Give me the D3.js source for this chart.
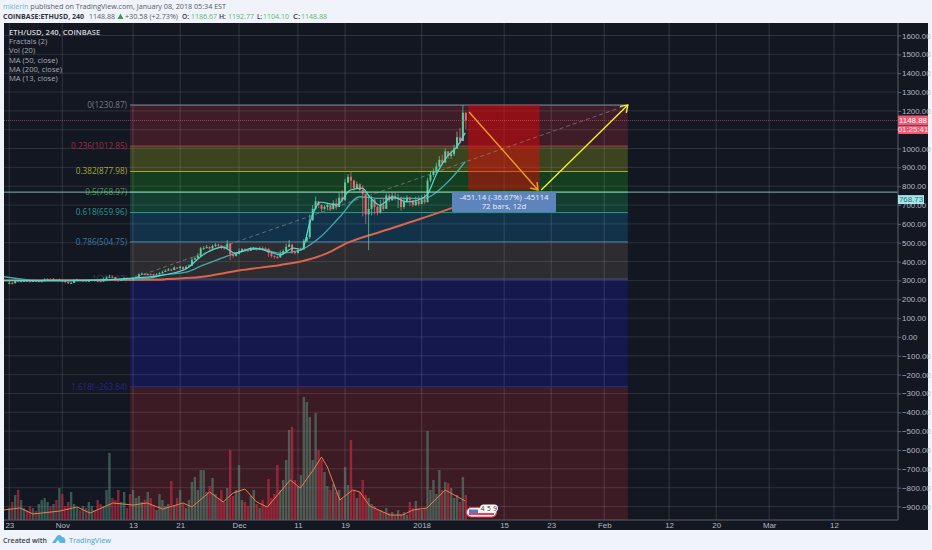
<!DOCTYPE html>
<html>
<head>
<meta charset="utf-8">
<script src="https://cdn.jsdelivr.net/npm/d3@7"></script>
<style>
  html, body { margin: 0; padding: 0; background: #f0f3fa; }
  svg { display: block; font-family: "Open Sans", "Liberation Sans", sans-serif; }
  .axis text { font-family: "Liberation Sans", Arial, sans-serif; font-size: 7.9px; fill: #b6b9c2; }
</style>
</head>
<body>
<div id="chart"></div>
<script>
// Half day candles, first one is Oct 23 2017. Open is the close before it.
const closes = [
  287,285, 298,296, 296,297, 296,295, 297,296, 296,296, 306,307, 306,307, 304,305,
  298,292, 285,287, 300,305, 298,300, 296,298, 302,298, 296,294, 308,315, 320,318, 305,300,
  303,313, 305,300, 312,318, 332,336, 330,333, 332,330, 332,338, 345,352, 358,355, 368,366,
  372,360, 372,378, 410,418, 430,470, 472,478, 470,482, 490,485, 475,470, 495,440, 430,440,
  455,465, 462,458, 468,470, 465,472, 470,468, 445,430, 425,422, 440,455, 478,490, 450,445,
  460,465, 510,530, 620,680, 720,700, 680,690, 700,680, 710,690, 740,725, 820,850, 830,790,
  810,780, 760,650, 680,730, 690,660, 700,680, 750,725, 750,735, 740,690, 720,740, 725,700, 720,705,
  730,715, 830,860, 880,905, 940,925, 985,960, 970,1000, 1060,1040, 1190,1148.88
];
const highs = [
  300,292, 303,300, 300,301, 300,298, 300,299, 299,300, 312,311, 311,312, 308,309,
  306,299, 293,292, 306,310, 304,304, 300,303, 306,303, 300,298, 316,322, 330,325, 320,306,
  310,318, 316,306, 318,326, 338,342, 337,338, 338,336, 339,344, 352,358, 366,362, 375,372,
  380,374, 380,386, 420,428, 445,478, 482,488, 480,490, 498,494, 488,480, 514,498, 445,450,
  470,472, 472,468, 478,478, 475,480, 480,476, 470,446, 434,430, 458,465, 495,515, 492,456,
  472,475, 520,545, 650,700, 745,722, 705,700, 712,698, 725,735, 765,780, 840,865, 877,835,
  825,815, 805,700, 745,748, 735,700, 728,735, 762,760, 765,768, 758,745, 745,752, 745,728, 745,752,
  752,760, 845,880, 895,925, 960,968, 1000,985, 990,1020, 1090,1110, 1230.87,1192.77
];
const lows = [
  280,278, 284,290, 292,293, 291,290, 292,292, 292,291, 295,302, 302,303, 300,301,
  290,284, 281,283, 286,299, 296,296, 292,294, 296,294, 292,290, 293,306, 312,312, 296,294,
  298,300, 298,296, 298,311, 316,329, 326,328, 327,325, 327,330, 336,344, 350,349, 354,360,
  356,352, 358,368, 376,408, 414,428, 462,468, 460,468, 478,478, 465,462, 470,408, 420,426,
  438,452, 454,450, 456,464, 458,462, 460,460, 425,420, 415,414, 420,438, 452,476, 440,438,
  444,458, 462,505, 520,615, 675,685, 665,675, 672,668, 675,675, 708,715, 755,815, 785,775,
  785,770, 640,600, 461,645, 650,645, 655,670, 715,715, 735,725, 685,670, 680,715, 695,690, 695,695,
  715,705, 740,820, 850,870, 900,915, 945,945, 945,960, 998,1025, 1075,1104.1
];
const volumes = [
  12,18, 25,30, 20,12, 10,14, 12,9, 16,20, 22,18, 14,16, 20,32,
  26,14, 18,28, 16,12, 10,14, 12,18, 14,10, 20,16, 14,30, 67,22, 20,30,
  18,28, 12,26, 30,22, 24,18, 20,28, 22,14, 10,26, 20,14, 16,39, 14,22,
  30,16, 12,20, 38,43, 30,50, 50,28, 34,42, 26,22, 30,18, 32,70, 24,30,
  55,20, 18,14, 24,30, 16,12, 20,14, 41,22, 26,55, 30,40, 60,90, 93,40,
  34,45, 123,118, 103,60, 107,70, 60,48, 34,30, 36,28, 30,22, 53,35, 80,30,
  22,28, 40,25, 22,16, 14,10, 10,8, 12,7, 8,5, 10,6, 8,5, 18,12, 19,12,
  10,12, 89,30, 40,26, 50,30, 38,37, 32,22, 25,18, 43,25
];

const ma13Days = [-1,9,15.4,21,26,30.2,32.4,33.7,36.3,38.3,41.4,44.3,46,48.2,49.7,51,52.8,55.6,57.9,59.9,61.2,62.9,65.1,67.5,69.4,70.9,72.6,74.3,76,77.4];
const ma13Values = [300,298,302,312,328,365,424,451,477,445,471,451,435,471,465,605,715,700,780,790,743,700,743,717,727,754,870,956,1010,1083];
const ma50Days = [-1,5,20,23.9,26,30.2,32.9,35.2,38,42.6,46,49.4,52.8,56.1,59.5,62.9,70.2,74.3,77.4];
const ma50Values = [320,300,305,312,328,345,381,408,440,467,445,461,530,637,744,735,735,818,930];
const ma200Days = [-1,25,26.8,32.4,39.2,46,50.5,54,57.3,62.9,70.2,75.2,77.5];
const ma200Values = [300,303,307,318,354,382,408,445,498,557,631,685,712];
const volMaDays = [-1,1.8,4,8.6,11.5,13.7,17.6,21,23.4,26,29.5,31,34,36.3,38,40,42,43.8,47.7,49.4,51.6,53,54,56.1,58.3,59.5,61.2,64.6,66.8,68.5,70.9,74,77.4];
const volMaValues = [10,12,6,9,13,7,17,15,17,11,17,13,28,18,27,31,18,13,40,32,50,63,53,20,30,28,14,5,5,10,12,30,19];

// Fibonacci retracement
const fibLevels = ["0","0.236","0.382","0.5","0.618","0.786","1","1.618"];
const fibPrices = [1230.87,1012.85,877.98,768.97,659.96,504.75,307.07,-263.84];
const fibFills = ["#4a1f2b","#46501f","#14491f","#134a38","#123a55","#333236","#14185a","#491c25"];
const fibLines = ["#8a8d96","#a8404a","#a3a83a","#46a040","#2a9d8f","#4c7fa6","#55587a","#2a2a90"];
const fibLabels = ["#787b86","#a02c44","#a3a83a","#3f9a3c","#26998d","#3d78a4","#3a3c4a","#26268c"];

// Axis labels
const priceTicks = [1600,1500,1400,1300,1200,1100,1000,900,800,700,600,500,400,300,200,100,0,-100,-200,-300,-400,-500,-600,-700,-800,-900];
const timeTicks = ["2017-10-23","2017-11-01","2017-11-13","2017-11-21","2017-12-01","2017-12-11","2017-12-19","2018-01-01","2018-01-15","2018-01-23","2018-02-01","2018-02-12","2018-02-20","2018-03-01","2018-03-12"];
const timeLabels = ["23","Nov","13","21","Dec","11","19","2018","15","23","Feb","12","20","Mar","12"];
const legendLines = ["ETH/USD, 240, COINBASE","Fractals (2)","Vol (20)","MA (50, close)","MA (200, close)","MA (13, close)"];

// Drawing tools, in days after Oct 23 and price
const fibStartDay = 20.5, fibEndDay = 105;
const lastPrice = 1148.88, crossPrice = 768.73;
const boxDays = [77.9,90], boxPrices = [1230.87,779.74];
const downArrowDays = [78.05,89.75], downArrowPrices = [1194,780];
const upArrowDays = [90.3,105], upArrowPrices = [780,1231];

const width = 932, height = 550;
const plotLeft = 4, plotRight = 898, plotTop = 23, plotBottom = 520, axisRight = 928, axisBottom = 530;

const parse = d3.utcParse("%Y-%m-%d");
const startDate = parse("2017-10-23");
const dayToDate = n => new Date(startDate.getTime() + n * 864e5);

const svg = d3.select("#chart").append("svg").attr("width", width).attr("height", height);

const x = d3.scaleUtc().domain([startDate, parse("2018-03-12")]).range([9.3, 834]);
const y = d3.scaleLinear().domain([1600, -900]).range([35.5, 506.5]);
const volY = d3.scaleLinear().domain([0, 125]).range([plotBottom, plotBottom - 125]);
const xDay = n => x(dayToDate(n));

svg.append("defs").append("clipPath").attr("id", "plot")
  .append("rect").attr("x", plotLeft).attr("y", plotTop)
  .attr("width", plotRight - plotLeft).attr("height", plotBottom - plotTop);

// dark panel
svg.append("rect").attr("x", plotLeft).attr("y", plotTop)
  .attr("width", axisRight - plotLeft).attr("height", axisBottom - plotTop).attr("fill", "#131722");

const plot = svg.append("g").attr("clip-path", "url(#plot)");

// fib zones, last one runs on to the bottom of the plot
plot.append("g").selectAll("rect")
  .data(fibPrices)
  .enter().append("rect")
  .attr("x", xDay(fibStartDay))
  .attr("width", xDay(fibEndDay) - xDay(fibStartDay))
  .attr("y", d => y(d))
  .attr("height", (d, i) => (i < fibPrices.length - 1 ? y(fibPrices[i + 1]) : plotBottom) - y(d))
  .attr("fill", (d, i) => fibFills[i])
  .attr("opacity", 0.78);

// grid on top of the zones
plot.append("g").selectAll("line")
  .data(priceTicks)
  .enter().append("line")
  .attr("x1", plotLeft).attr("x2", plotRight)
  .attr("y1", d => y(d)).attr("y2", d => y(d))
  .attr("stroke", "#fff").attr("stroke-opacity", 0.11);
plot.append("g").selectAll("line")
  .data(timeTicks)
  .enter().append("line")
  .attr("x1", d => x(parse(d))).attr("x2", d => x(parse(d)))
  .attr("y1", plotTop).attr("y2", plotBottom)
  .attr("stroke", "#fff").attr("stroke-opacity", 0.13);

// fib lines and their labels
plot.append("g").selectAll("line")
  .data(fibPrices)
  .enter().append("line")
  .attr("x1", xDay(fibStartDay)).attr("x2", xDay(fibEndDay))
  .attr("y1", d => y(d)).attr("y2", d => y(d))
  .attr("stroke", (d, i) => fibLines[i]);
plot.append("g").selectAll("text")
  .data(fibPrices)
  .enter().append("text")
  .attr("x", xDay(fibStartDay) - 3)
  .attr("y", d => y(d))
  .attr("dy", "0.35em")
  .attr("text-anchor", "end")
  .attr("font-size", 8.2)
  .attr("fill", (d, i) => fibLabels[i])
  .text((d, i) => fibLevels[i] + "(" + d3.format(".2f")(d) + ")");

// red box of the date and price range
plot.append("rect")
  .attr("x", xDay(boxDays[0])).attr("width", xDay(boxDays[1]) - xDay(boxDays[0]))
  .attr("y", y(boxPrices[0])).attr("height", y(boxPrices[1]) - y(boxPrices[0]))
  .attr("fill", "#ff0000").attr("fill-opacity", 0.42);

// dashed trend line of the fib
plot.append("line")
  .attr("x1", xDay(fibStartDay)).attr("y1", y(fibPrices[6]))
  .attr("x2", xDay(fibEndDay)).attr("y2", y(fibPrices[0]))
  .attr("stroke", "#9a9aa0").attr("stroke-opacity", 0.55).attr("stroke-dasharray", "4 3");

// volume bars
const isUp = (d, i) => closes[i] >= (i ? closes[i - 1] : closes[i]);
plot.append("g").selectAll("rect")
  .data(volumes)
  .enter().append("rect")
  .attr("x", (d, i) => xDay(i / 2) - 1.2)
  .attr("width", 2.4)
  .attr("y", d => volY(d))
  .attr("height", d => plotBottom - volY(d))
  .attr("fill", (d, i) => isUp(d, i) ? "#5c9c84" : "#d02c46")
  .attr("opacity", (d, i) => isUp(d, i) ? 0.5 : 0.62);

const lineOf = (days, scale, curve) => d3.line()
  .x((d, i) => xDay(days[i]))
  .y(d => scale(d))
  .curve(curve);

plot.append("path")
  .attr("d", lineOf(volMaDays, volY, d3.curveLinear)(volMaValues))
  .attr("fill", "none").attr("stroke", "#e8804a").attr("stroke-width", 1);

// moving averages
plot.append("path")
  .attr("d", lineOf(ma200Days, y, d3.curveMonotoneX)(ma200Values))
  .attr("fill", "none").attr("stroke", "#dc644a").attr("stroke-width", 2);
plot.append("path")
  .attr("d", lineOf(ma50Days, y, d3.curveMonotoneX)(ma50Values))
  .attr("fill", "none").attr("stroke", "#45a7ad").attr("stroke-width", 1.3);

// candles
const candles = plot.append("g").selectAll("g")
  .data(closes)
  .enter().append("g");
const openOf = i => i ? closes[i - 1] : closes[i];
const candleColor = (d, i) => d >= openOf(i) ? "#63c79c" : "#ee6470";
candles.append("line")
  .attr("x1", (d, i) => xDay(i / 2)).attr("x2", (d, i) => xDay(i / 2))
  .attr("y1", (d, i) => y(Math.max(highs[i], d, openOf(i))))
  .attr("y2", (d, i) => y(Math.min(lows[i], d, openOf(i))))
  .attr("stroke", candleColor).attr("stroke-opacity", 0.75);
candles.append("rect")
  .attr("x", (d, i) => xDay(i / 2) - 1)
  .attr("width", 2)
  .attr("y", (d, i) => y(Math.max(d, openOf(i))))
  .attr("height", (d, i) => Math.max(1, Math.abs(y(d) - y(openOf(i)))))
  .attr("fill", candleColor);

plot.append("path")
  .attr("d", lineOf(ma13Days, y, d3.curveMonotoneX)(ma13Values))
  .attr("fill", "none").attr("stroke", "#4fdcd2").attr("stroke-width", 1.2);

// last price and the horizontal line
plot.append("line")
  .attr("x1", plotLeft).attr("x2", plotRight)
  .attr("y1", y(lastPrice)).attr("y2", y(lastPrice))
  .attr("stroke", "#e0566c").attr("stroke-opacity", 0.6).attr("stroke-dasharray", "1 1");
plot.append("line")
  .attr("x1", plotLeft).attr("x2", plotRight)
  .attr("y1", y(crossPrice)).attr("y2", y(crossPrice))
  .attr("stroke", "#9fdde0").attr("stroke-opacity", 0.8);

// arrows
const arrow = (days, prices, color) => {
  const x1 = xDay(days[0]), y1 = y(prices[0]), x2 = xDay(days[1]), y2 = y(prices[1]);
  const a = Math.atan2(y2 - y1, x2 - x1);
  plot.append("line").attr("x1", x1).attr("y1", y1).attr("x2", x2).attr("y2", y2)
    .attr("stroke", color).attr("stroke-width", 1.4);
  plot.append("path")
    .attr("d", d3.line()([
      [x2 - 8 * Math.cos(a - 0.6), y2 - 8 * Math.sin(a - 0.6)],
      [x2, y2],
      [x2 - 8 * Math.cos(a + 0.6), y2 - 8 * Math.sin(a + 0.6)]
    ]))
    .attr("fill", "none").attr("stroke", color).attr("stroke-width", 1.4);
};
arrow(downArrowDays, downArrowPrices, "#f0a020");
arrow(upArrowDays, upArrowPrices, "#f0f030");

// measure label
const measure = plot.append("g");
measure.append("rect")
  .attr("x", 452).attr("y", 192).attr("width", 104).attr("height", 20)
  .attr("rx", 1).attr("fill", "#5d84bd");
measure.append("text").attr("x", 504).attr("y", 200)
  .attr("text-anchor", "middle").attr("font-size", 7.8).attr("fill", "#eef2f8")
  .text("-451.14 (-36.67%) -45114");
measure.append("text").attr("x", 504).attr("y", 209)
  .attr("text-anchor", "middle").attr("font-size", 7.8).attr("fill", "#eef2f8")
  .text("72 bars, 12d");

// earnings / events pill by the last bar
const pill = plot.append("g");
pill.append("rect").attr("x", 466.5).attr("y", 507.5).attr("width", 30).attr("height", 9.5)
  .attr("rx", 4.7).attr("fill", "#f4f1f2").attr("stroke", "#e0455a").attr("stroke-width", 1.2);
pill.append("rect").attr("x", 469).attr("y", 509.5).attr("width", 9).attr("height", 3.5).attr("fill", "#5577c8");
pill.append("rect").attr("x", 469).attr("y", 513).attr("width", 25).attr("height", 2).attr("fill", "#e0455a");
pill.append("rect").attr("x", 480).attr("y", 504.5).attr("width", 18).attr("height", 7.5)
  .attr("rx", 3.7).attr("fill", "#f6f6f6");
pill.append("text").attr("x", 489).attr("y", 510.8).attr("text-anchor", "middle")
  .attr("font-size", 6.5).attr("letter-spacing", 0.4).attr("fill", "#333").text("4 5 9");

// axes, the 1100 label sits behind the countdown tag so it is left out
const priceAxis = d3.axisRight(y).tickValues(priceTicks).tickSize(3).tickPadding(1)
  .tickFormat(d => d === 1100 ? "" : d3.format(".2f")(d));
const priceG = svg.append("g").attr("class", "axis")
  .attr("transform", "translate(" + plotRight + ",0)").call(priceAxis);
priceG.select(".domain").attr("stroke", "#5c606b").attr("d", "M0," + plotTop + "V" + plotBottom);
priceG.selectAll(".tick line").attr("stroke", "#5c606b");

const timeAxis = d3.axisBottom(x).tickValues(timeTicks.map(parse)).tickSize(0).tickPadding(2)
  .tickFormat((d, i) => timeLabels[i]);
const timeG = svg.append("g").attr("class", "axis")
  .attr("transform", "translate(0," + plotBottom + ")").call(timeAxis);
timeG.select(".domain").attr("stroke", "#5c606b").attr("d", "M" + plotLeft + ",0H" + plotRight);

// tags on the price axis
const tag = (top, w, h, fill, color, label) => {
  svg.append("rect").attr("x", plotRight).attr("y", top).attr("width", w).attr("height", h).attr("fill", fill);
  svg.append("text").attr("x", plotRight + w / 2).attr("y", top + h - 2)
    .attr("text-anchor", "middle").attr("font-size", 7.9).attr("fill", color)
    .attr("font-family", "Liberation Sans").text(label);
};
tag(y(lastPrice) - 5, 30, 9.5, "#ee5a73", "#fff", d3.format(".2f")(lastPrice));
tag(y(lastPrice) + 5, 30, 8.5, "#ee5a73", "#ffe3e8", "01:25:41");
tag(y(crossPrice) + 3, 26, 9, "#a5e4e8", "#2e6f78", d3.format(".2f")(crossPrice));

// legend
svg.append("g").selectAll("text")
  .data(legendLines)
  .enter().append("text")
  .attr("x", 9)
  .attr("y", (d, i) => 35 + i * 9.2)
  .attr("font-size", 7.6)
  .attr("font-weight", (d, i) => i ? 400 : 600)
  .attr("fill", (d, i) => i ? "#a8abb4" : "#d6d8de")
  .text(d => d);

// header, widths pinned because the small sizes hint wider than the reference
const head1 = svg.append("text").attr("x", 3).attr("y", 9).attr("font-size", 7.6)
  .attr("textLength", 223).attr("lengthAdjust", "spacingAndGlyphs").attr("fill", "#555b66");
head1.append("tspan").attr("fill", "#5fb7e0").text("mklerin");
head1.append("tspan").text(" published on TradingView.com, January 08, 2018 05:34 EST");

const headItems = [
  [3, "COINBASE:ETHUSD, 240", "#30343c", 700, 81],
  [89, "1148.88", "#555b66", 400, 26],
  [125, "+30.58 (+2.73%)", "#555b66", 400, 53],
  [182, "O:", "#30343c", 600, 7], [191, "1186.67", "#56b870", 400, 26],
  [219, "H:", "#30343c", 600, 7], [228, "1192.77", "#56b870", 400, 26],
  [257, "L:", "#30343c", 600, 5], [263, "1104.10", "#56b870", 400, 26],
  [293, "C:", "#30343c", 600, 7], [301, "1148.88", "#56b870", 400, 26]
];
svg.append("g").selectAll("text")
  .data(headItems)
  .enter().append("text")
  .attr("x", d => d[0]).attr("y", 19)
  .attr("font-size", 7.4)
  .attr("textLength", d => d[4]).attr("lengthAdjust", "spacingAndGlyphs")
  .attr("fill", d => d[2]).attr("font-weight", d => d[3])
  .text(d => d[1]);
svg.append("path").attr("d", "M117.5,19 L120.5,13.5 L123.5,19 Z").attr("fill", "#3c9a50");

// footer
svg.append("text").attr("x", 3).attr("y", 543).attr("font-size", 7.8)
  .attr("textLength", 44).attr("lengthAdjust", "spacingAndGlyphs")
  .attr("font-weight", 600).attr("fill", "#3a3f48").text("Created with");
svg.append("path")
  .attr("d", "M52,543 L57,536 C59,534 61,535 62,537 C65,537 66,540 65,543 L60,543 L58,540 L55.5,543 Z")
  .attr("fill", "#5ab4e0");
svg.append("text").attr("x", 69).attr("y", 543).attr("font-size", 7.8)
  .attr("textLength", 42).attr("lengthAdjust", "spacingAndGlyphs")
  .attr("font-weight", 600).attr("fill", "#62b3dc").text("TradingView");
</script>
</body>
</html>
